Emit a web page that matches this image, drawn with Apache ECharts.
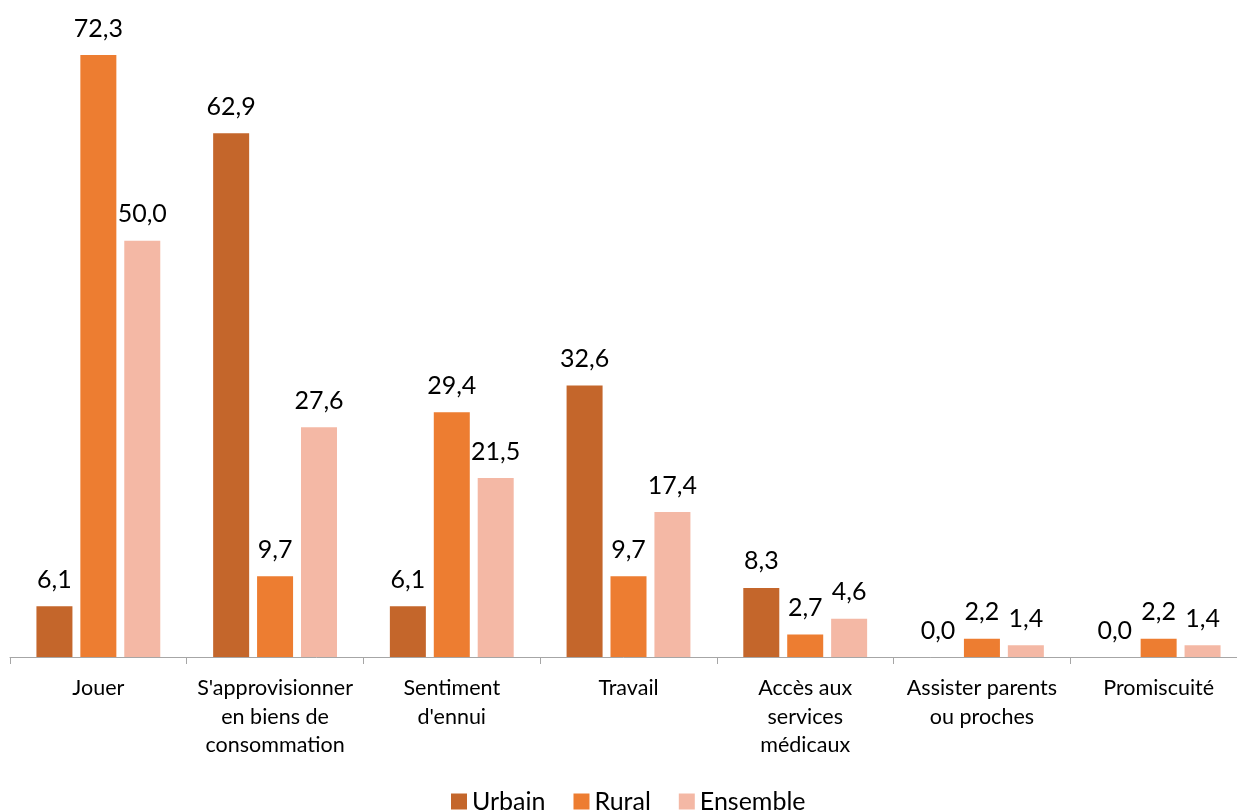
<!DOCTYPE html>
<html>
<head>
<meta charset="utf-8">
<script src="https://cdn.jsdelivr.net/npm/echarts@6/dist/echarts.min.js"></script>
<style>
html,body{margin:0;padding:0;background:#fff;}
#chart{width:1237px;height:812px;}
</style>
</head>
<body>
<div id="chart"></div>
<script>
const categories = [
  "Jouer",
  "S'approvisionner\nen biens de\nconsommation",
  "Sentiment\nd'ennui",
  "Travail",
  "Accès aux\nservices\nmédicaux",
  "Assister parents\nou proches",
  "Promiscuité"
];
const urbain = [6.1, 62.9, 6.1, 32.6, 8.3, 0.0, 0.0];
const rural = [72.3, 9.7, 29.4, 9.7, 2.7, 2.2, 2.2];
const ensemble = [50.0, 27.6, 21.5, 17.4, 4.6, 1.4, 1.4];
const seriesNames = ["Urbain", "Rural", "Ensemble"];
const colors = ["#C4662B", "#ED7D31", "#F4B8A5"];

const FONT = "Lato";
const fmt = p => p.value.toFixed(1).replace('.', ',');

function mk(name, data, color) {
  return {
    name: name,
    type: 'bar',
    data: data,
    barWidth: 36,
    barGap: '22%',
    itemStyle: { color: color },
    label: {
      show: true,
      position: 'top',
      distance: 14,
      formatter: fmt,
      color: '#000',
      fontFamily: FONT,
      fontSize: 25
    }
  };
}

const chart = echarts.init(document.getElementById('chart'), null, { renderer: 'canvas' });
chart.setOption({
  animation: false,
  textStyle: { fontFamily: FONT },
  grid: { left: 10, width: 1237, top: 55, bottom: 155, containLabel: false, outerBoundsMode: 'none' },
  legend: {
    data: seriesNames,
    left: 446,
    top: 784,
    icon: 'rect',
    itemWidth: 16,
    itemHeight: 16,
    itemGap: 28,
    textStyle: { fontFamily: FONT, fontSize: 25, color: '#000' }
  },
  xAxis: {
    type: 'category',
    data: categories,
    axisLine: { lineStyle: { color: '#A6A6A6', width: 1 } },
    axisTick: { show: true, length: 7, lineStyle: { color: '#A6A6A6' } },
    axisLabel: {
      interval: 0,
      color: '#000',
      fontFamily: FONT,
      fontSize: 21.5,
      lineHeight: 28.5,
      margin: 17
    }
  },
  yAxis: {
    type: 'value',
    min: 0,
    max: 72.3,
    show: false,
    splitLine: { show: false }
  },
  series: [
    mk(seriesNames[0], urbain, colors[0]),
    mk(seriesNames[1], rural, colors[1]),
    mk(seriesNames[2], ensemble, colors[2])
  ]
});
</script>
</body>
</html>
